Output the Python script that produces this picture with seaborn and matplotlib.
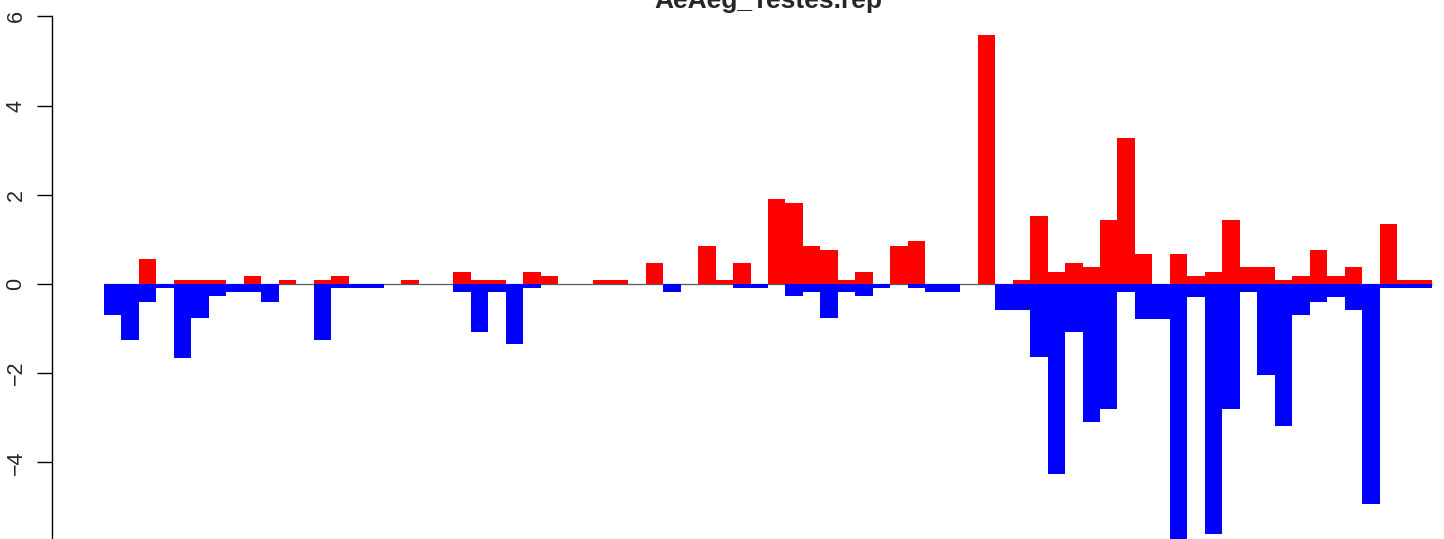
import numpy as np
import pandas as pd
import seaborn as sns
from matplotlib import pyplot as plt

# values, one per bin (76 bins)
up_values = [0, 0, 0.57, 0, 0.1, 0.1, 0.1, 0, 0.19, 0,
             0.1, 0, 0.1, 0.19, 0, 0, 0, 0.1, 0, 0,
             0.28, 0.1, 0.1, 0, 0.28, 0.19, 0, 0, 0.1, 0.1,
             0, 0.48, 0, 0, 0.86, 0.1, 0.48, 0, 1.91, 1.82,
             0.86, 0.77, 0.1, 0.28, 0, 0.86, 0.97, 0, 0, 0,
             5.59, 0, 0.1, 1.53, 0.28, 0.48, 0.38, 1.43, 3.27, 0.67,
             0, 0.67, 0.18, 0.27, 1.43, 0.38, 0.38, 0.09, 0.18, 0.76,
             0.18, 0.38, 0, 1.35, 0.09, 0.09]

down_values = [-0.69, -1.25, -0.40, -0.1, -1.65, -0.77, -0.28, -0.19, -0.19, -0.40,
               0, 0, -1.25, -0.1, -0.1, -0.1, 0, 0, 0, 0,
               -0.19, -1.07, -0.19, -1.35, -0.1, 0, 0, 0, 0, 0,
               0, 0, -0.19, 0, 0, 0, -0.1, -0.1, 0, -0.28,
               -0.19, -0.77, -0.19, -0.28, -0.1, 0, -0.1, -0.19, -0.19, 0,
               0, -0.58, -0.58, -1.64, -4.25, -1.07, -3.09, -2.80, -0.19, -0.78,
               -0.78, -5.8, -0.29, -5.6, -2.80, -0.19, -2.03, -3.18, -0.70, -0.40,
               -0.29, -0.58, -4.93, -0.1, -0.1, -0.1]

title = 'AeAeg_Testes.rep'
y_ticks = [-4, -2, 0, 2, 4, 6]

sns.set_style('white')
plt.rcParams['font.family'] = ['Liberation Sans', 'DejaVu Sans']

n = len(up_values)
df = pd.DataFrame({'bin': np.arange(n), 'up': up_values, 'down': down_values})

fig = plt.figure(figsize=(14.44, 5.39), dpi=100)
# bars span pixels 104..1432, y axis line at x=52
px = 1328 / n
left_px = 52
ax = fig.add_axes([left_px / 1444, 0, 1 - left_px / 1444, 1])

ax.hlines(0, -0.5, n - 0.5, color='#5a5a5a', linewidth=0.9, zorder=1)
sns.barplot(x='bin', y='up', data=df, color='#ff0000', saturation=1,
            width=1, linewidth=0, errorbar=None, ax=ax, zorder=2)
sns.barplot(x='bin', y='down', data=df, color='#0000ff', saturation=1,
            width=1, linewidth=0, errorbar=None, ax=ax, zorder=2)

x0 = -0.5 - (104 - left_px) / px
x1 = -0.5 + (1444 - 104) / px
ax.set_xlim(x0, x1)
ax.set_ylim(-(539 - 284) / 44.6, 284 / 44.6)

ax.set_xticks([])
ax.set_xlabel('')
ax.set_ylabel('')
ax.set_yticks(y_ticks)
ax.set_yticklabels([str(t).replace('-', '\u2212') for t in y_ticks],
                   rotation=90, va='center')
ax.tick_params(axis='y', left=True, length=10.8, width=1, pad=7.5,
               labelsize=15.5, color='black', direction='out')

for side in ['top', 'right', 'bottom']:
    ax.spines[side].set_visible(False)
ax.spines['left'].set_color('black')
ax.spines['left'].set_linewidth(1)
ax.spines['left'].set_bounds(ax.get_ylim()[0], 6)

# title sits partly above the top edge, as in the reference
fig.text(768 / 1444, 1 - 8 / 539, title, ha='center', va='baseline',
         fontsize=19, fontweight='bold')

fig.savefig('out.png', dpi=100)
